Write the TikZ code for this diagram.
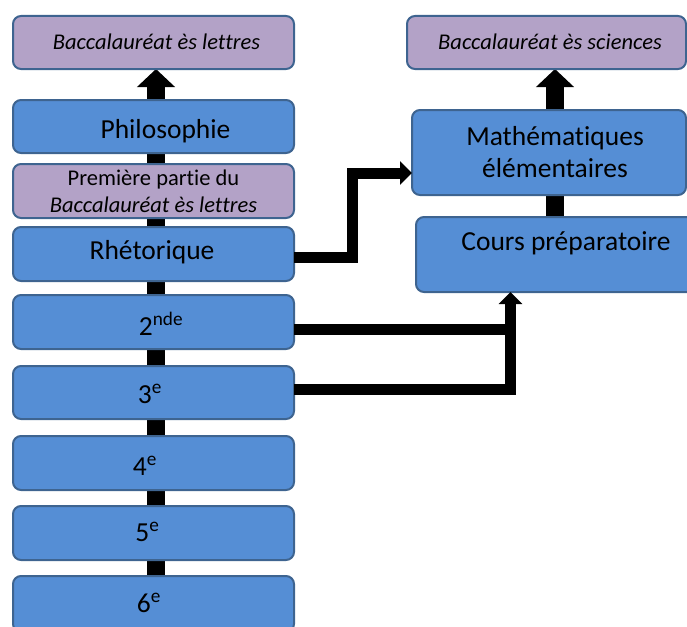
\documentclass[tikz,border=0pt]{standalone}
\usepackage{fontspec}
\setmainfont{Carlito}[Ligatures=NoCommon]
\usetikzlibrary{arrows.meta,backgrounds}
\definecolor{boxblue}{HTML}{558ED5}
\definecolor{boxpurple}{HTML}{B3A2C7}
\definecolor{boxline}{HTML}{3E6490}
\tikzset{
  box/.style={draw=boxline, line width=2pt, rounded corners=8pt, inner sep=0pt, outer sep=0pt},
  bluebox/.style={box, fill=boxblue},
  purplebox/.style={box, fill=boxpurple},
  lbl/.style={anchor=base, inner sep=0pt, font=\fontsize{27.5}{32}\selectfont},
  ilbl/.style={anchor=base, inner sep=0pt, font=\fontsize{22.5}{26}\selectfont\itshape},
  slbl/.style={anchor=base, inner sep=0pt, font=\fontsize{22.5}{26}\selectfont},
  trunk/.style={line width=18pt, -{Triangle[width=37pt,length=18pt]}},
  thin/.style={line width=11pt},
  thinarrow/.style={line width=11pt, -{Triangle[width=23pt,length=12pt]}},
}
\begin{document}
\begin{tikzpicture}[x=1pt,y=-1pt]
\useasboundingbox (0,0) rectangle (687,626);
\clip (0,0) rectangle (687,626);
% boxes
\node[purplebox, minimum width=281pt, minimum height=53pt] (baclet) at (153.5,42.5) {};
\node[bluebox, minimum width=281pt, minimum height=53pt] (philo) at (153.5,126.5) {};
\node[purplebox, minimum width=281pt, minimum height=54pt] (prem) at (153.5,191) {};
\node[bluebox, minimum width=281pt, minimum height=54pt] (rhet) at (153.5,254) {};
\node[bluebox, minimum width=281pt, minimum height=54pt] (snd) at (153.5,322) {};
\node[bluebox, minimum width=281pt, minimum height=53pt] (trois) at (153.5,392.5) {};
\node[bluebox, minimum width=281pt, minimum height=54pt] (quatre) at (153.5,463) {};
\node[bluebox, minimum width=281pt, minimum height=54pt] (cinq) at (153.5,533) {};
\node[bluebox, minimum width=281pt, minimum height=56pt] (six) at (153.5,604) {};
\node[purplebox, minimum width=279pt, minimum height=53pt] (bacsci) at (546.5,42.5) {};
\node[bluebox, minimum width=274pt, minimum height=85pt] (maths) at (549,152.5) {};
\node[bluebox, minimum width=284pt, minimum height=75pt] (cours) at (558,254.5) {};
% labels
\node[ilbl] (tbaclet) at (156.5,49) {Baccalauréat ès lettres};
\node[lbl] (tphilo) at (165.5,138) {Philosophie};
\node[slbl] (tprem1) at (153.5,185) {Première partie du};
\node[ilbl] (tprem2) at (153.5,212) {Baccalauréat ès lettres};
\node[lbl] (trhet) at (152,259) {Rhétorique};
\node[lbl] (tsnd) at (161,335) {2\textsuperscript{nde}};
\node[lbl] (ttrois) at (150,403) {3\textsuperscript{e}};
\node[lbl] (tquatre) at (145,475) {4\textsuperscript{e}};
\node[lbl] (tcinq) at (147.5,541) {5\textsuperscript{e}};
\node[lbl] (tsix) at (149,612) {6\textsuperscript{e}};
\node[ilbl] (tbacsci) at (550,49) {Baccalauréat ès sciences};
\node[lbl] (tmaths1) at (555,145) {Mathématiques};
\node[lbl] (tmaths2) at (555,177) {élémentaires};
\node[lbl] (tcours) at (566,250) {Cours préparatoire};
% connectors
\coordinate (lx) at (156,0);
\coordinate (rx) at (555,0);
\coordinate (vx) at (352,0);
\coordinate (cx) at (510.5,0);
\coordinate (yr) at (0,257);
\coordinate (ym) at (0,173);
\coordinate (y2) at (0,329.5);
\coordinate (y3) at (0,389);
\begin{scope}[on background layer]
\draw[trunk] (lx |- six.center) -- (lx |- baclet.south);
\draw[trunk] (rx |- cours.center) -- (rx |- bacsci.south);
\end{scope}
\draw[thinarrow] (rhet.east |- yr) -| (vx |- ym) -- (maths.west |- ym);
\draw[thin] (snd.east |- y2) -- (cx |- y2);
\draw[thinarrow] (trois.east |- y3) -| (cx |- cours.south);
\end{tikzpicture}
\end{document}
